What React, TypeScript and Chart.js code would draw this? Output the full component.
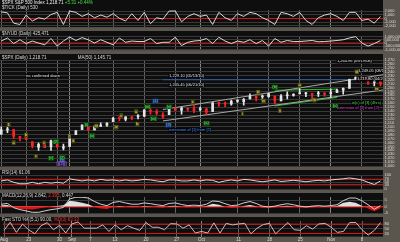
import React, { useEffect, useRef } from "react";
import { Chart, registerables } from "chart.js";

Chart.register(...registerables);

// ---------------- data ----------------
const dates = ["2010-08-17","2010-08-18","2010-08-19","2010-08-20","2010-08-23","2010-08-24","2010-08-25","2010-08-26","2010-08-27","2010-08-30","2010-08-31",
"2010-09-01","2010-09-02","2010-09-03","2010-09-07","2010-09-08","2010-09-09","2010-09-10","2010-09-13","2010-09-14","2010-09-15","2010-09-16","2010-09-17","2010-09-20","2010-09-21","2010-09-22","2010-09-23","2010-09-24","2010-09-27","2010-09-28","2010-09-29","2010-09-30",
"2010-10-01","2010-10-04","2010-10-05","2010-10-06","2010-10-07","2010-10-08","2010-10-11","2010-10-12","2010-10-13","2010-10-14","2010-10-15","2010-10-18","2010-10-19","2010-10-20","2010-10-21","2010-10-22","2010-10-25","2010-10-26","2010-10-27","2010-10-28","2010-10-29",
"2010-11-01","2010-11-02","2010-11-03","2010-11-04","2010-11-05","2010-11-08","2010-11-09","2010-11-10","2010-11-11"];

const openP = [1081,1092,1093,1075,1073,1062,1048,1056,1049,1062,1046,1050,1080,1093,1102,1092,1101,1104,1113,1121,1119,1123,1127,1127,1142,1139,1131,1131,1148,1142,1146,1146,1144,1145,1139,1160,1161,1158,1165,1164,1171,1177,1177,1177,1178,1166,1179,1180,1184,1184,1183,1184,1183,1186,1187,1193,1198,1221,1223,1224,1213,1209];
const highP = [1100,1099,1093,1076,1082,1062,1059,1062,1066,1064,1056,1081,1090,1105,1102,1103,1110,1110,1124,1127,1126,1126,1131,1144,1148,1144,1136,1149,1149,1150,1148,1157,1150,1148,1162,1163,1163,1168,1169,1172,1184,1179,1181,1185,1178,1182,1189,1184,1197,1188,1183,1190,1187,1196,1196,1199,1221,1227,1224,1226,1219,1217];
const lowP = [1081,1085,1070,1064,1067,1046,1040,1047,1040,1048,1041,1050,1080,1093,1091,1092,1101,1101,1113,1115,1115,1118,1120,1126,1132,1131,1122,1131,1142,1132,1140,1136,1140,1131,1139,1152,1151,1155,1162,1155,1171,1166,1167,1175,1159,1166,1171,1178,1184,1177,1171,1177,1178,1175,1187,1183,1198,1221,1218,1208,1204,1204];
const closeP = [1092.54,1094.16,1075.63,1071.69,1067.36,1051.87,1055.33,1047.22,1064.59,1048.92,1049.33,1080.29,1090.10,1104.51,1091.84,1098.87,1104.18,1109.55,1121.90,1121.10,1125.07,1124.66,1125.59,1142.71,1139.78,1134.28,1124.83,1148.67,1142.16,1147.70,1144.73,1141.20,1146.24,1137.03,1160.75,1159.97,1158.06,1165.15,1165.32,1169.77,1178.10,1173.81,1176.19,1184.71,1165.90,1178.17,1180.26,1183.08,1185.62,1185.64,1182.45,1183.78,1183.26,1184.38,1193.57,1197.96,1221.06,1225.85,1223.25,1213.40,1218.71,1214.50];

const tickVals = [1850,1550,-1260,-1630,960,-670,220,-150,1110,1700,-1630,2070,1700,590,1330,220,960,370,1330,70,-670,1330,-520,1700,-1410,220,-150,2070,2070,-890,590,1330,590,960,-1630,1700,220,-520,1330,590,1700,1330,220,-520,-1630,1700,1330,590,1700,-520,-1630,220,960,1330,590,-520,1700,1700,-520,-150,-1260,590];
const breadthVals = [317000,794000,-79000,516000,-79000,317000,0,-278000,714000,-476000,317000,950000,397000,850000,516000,0,516000,119000,-278000,794000,119000,317000,238000,238000,714000,-79000,119000,119000,913000,-397000,119000,317000,397000,714000,-79000,900000,317000,-79000,317000,119000,516000,-79000,397000,-476000,714000,119000,397000,238000,238000,317000,397000,198000,238000,317000,397000,516000,794000,1000000,0,-476000,-79000,397000];
const rsiVals = [58,65,48,38,38,48,38,48,42,48,42,73,65,58,65,58,69,62,65,58,65,58,62,69,65,58,52,65,65,58,58,65,58,65,62,48,58,65,58,69,65,58,52,58,65,54,58,62,58,52,58,62,58,65,69,73,79,73,65,48,33,58];
const macdVals = [1.9,2.5,-0.8,-2.3,-3.3,-4.4,-4.4,-3.3,-2.3,-1.7,-0.6,6.0,7.3,7.3,6.7,4.0,1.9,0.8,3.3,4.0,2.9,1.9,1.9,2.9,2.3,1.5,0.8,2.5,2.9,1.7,0.8,1.2,0.8,1.9,4.4,4.0,2.3,0.8,1.2,2.9,4.0,2.5,0.4,-0.2,0.4,1.5,2.3,1.5,0.4,-0.2,0.4,0.8,0.4,0.8,1.5,4.6,6.7,6.7,4.6,1.5,-2.0,0.8];
const histVals = [1.0,1.2,-0.8,-1.8,-2.0,-2.2,-1.5,-0.5,0.2,0.5,1.0,4.5,4.0,3.0,1.8,-0.2,-1.5,-1.8,-0.2,0.5,0,-0.5,-0.3,0.5,0.1,-0.3,-0.8,0.5,0.7,0,-0.5,-0.2,-0.3,0.6,2.2,1.5,0,-1.0,-0.6,0.6,1.3,0.4,-1.0,-1.1,-0.6,0.3,0.8,0.1,-0.6,-0.8,-0.4,0,-0.2,0.1,0.6,3.0,3.8,3.0,0.8,-1.5,-3.5,-1.2];
const stochVals = [40,92,27,80,44,18,70,90,44,72,23,81,94,54,54,54,75,33,75,44,70,54,40,90,60,60,44,83,81,54,75,23,33,23,88,23,85,75,81,85,18,54,77,85,18,54,90,44,40,70,48,81,85,60,27,33,90,90,44,10,40,90];

const xTickIdx = [0,4,9,11,14,18,23,28,32,38,43,48,53,58];
const xTickText = ["Aug","23","30","Sep","7","13","20","27","Oct","11","18","25","Nov","8"];
const monthTickIdx = [11,32,53];

const tickAxis = [-2000,-1000,0,1000,2000];
const breadthAxis = [-1000000,-500000,0,500000,1000000];
const rsiAxis = [0,30,50,70,100];
const macdAxis = [-5,0,5];
const stochAxis = [20,50,80];

// trend / channel lines in (day index, price)
const channelUpper = [{ x: 26, y: 1144 }, { x: 62, y: 1234 }];
const channelLower = [{ x: 26, y: 1115 }, { x: 62, y: 1195 }];
const greenTop = [{ x: 44, y: 1193 }, { x: 54, y: 1196 }];
const greenBottom = [{ x: 44, y: 1153 }, { x: 54, y: 1175 }];
const blueLevel = [{ x: 26, y: 1219.8 }, { x: 62, y: 1219.8 }];

// wave labels: day index, price, text, style
const waveLabels: { i: number; p: number; t: string; k: string }[] = [
  { i: 1.2, p: 1106, t: "1", k: "y" },
  { i: 2, p: 1060, t: "a", k: "y" },
  { i: 4, p: 1079, t: "b", k: "y" },
  { i: 6.9, p: 1059, t: "c", k: "y" },
  { i: 8.8, p: 1062, t: "(2)", k: "g" },
  { i: 11, p: 1076, t: "i", k: "y" },
  { i: 11.6, p: 1064, t: "ii", k: "y" },
  { i: 13.7, p: 1106, t: "(i)", k: "g" },
  { i: 14.6, p: 1078, t: "(ii)", k: "g" },
  { i: 15.3, p: 1102, t: "iii", k: "y" },
  { i: 18.5, p: 1099, t: "iv", k: "y" },
  { i: 19.3, p: 1129, t: "v", k: "y" },
  { i: 21.7, p: 1139, t: "a", k: "y" },
  { i: 21.9, p: 1107, t: "b", k: "y" },
  { i: 23.5, p: 1151, t: "(iii)", k: "g" },
  { i: 24.8, p: 1166, t: "[1]", k: "b" },
  { i: 24.5, p: 1121, t: "(iv)", k: "g" },
  { i: 27, p: 1151, t: "(v)", k: "g" },
  { i: 26.9, p: 1104, t: "[2]", k: "b" },
  { i: 30.8, p: 1163, t: "c", k: "y" },
  { i: 33, p: 1109, t: "(a)", k: "g" },
  { i: 38.8, p: 1134, t: "i", k: "y" },
  { i: 41.3, p: 1188, t: "iii", k: "y" },
  { i: 42.2, p: 1166, t: "iv", k: "y" },
  { i: 44, p: 1201, t: "(b)", k: "g" },
  { i: 44.8, p: 1141, t: "ii", k: "y" },
  { i: 48, p: 1206, t: "a", k: "y" },
  { i: 50.4, p: 1168, t: "b", k: "y" },
  { i: 53.7, p: 1154, t: "(c)", k: "g" },
  { i: 57.2, p: 1240, t: "iii", k: "y" },
  { i: 60.4, p: 1196, t: "iv", k: "y" },
  { i: 5.6, p: 1025, t: "c", k: "y" },
  { i: 8, p: 1020, t: "(c)", k: "g" },
  { i: 9.8, p: 1022, t: "(2)", k: "g" },
  { i: 9.8, p: 1012, t: "[2]", k: "b" },
  { i: 9.7, p: 1005, t: "((2))", k: "p" },
];

const noteLabels: { i: number; p: number; t: string; c: string }[] = [
  { i: 4, p: 1230, t: "no confirmed down", c: "#e6e6e6" },
  { i: 27, p: 1230, t: "1,229.10 (05/13/10)", c: "#e6e6e6" },
  { i: 27, p: 1206, t: "1,205.45 (06/21/10)", c: "#e6e6e6" },
  { i: 54, p: 1267, t: "1,264.96 (09/19/08)", c: "#e6e6e6" },
  { i: 57.4, p: 1242, t: "1,249.05 (08/11/08)", c: "#e6e6e6" },
  { i: 57.2, p: 1221, t: "1,219.80 (04/26/10)", c: "#e6e6e6" },
  { i: 56.4, p: 1161, t: "w(c) of [3] (4hrs)", c: "#3fe03f" },
  { i: 54, p: 1149, t: "extension of [3] from [2]", c: "#e040e0" },
  { i: 27, p: 1092, t: "extension of [1] from [2]", c: "#3f8fff" },
];

// ---------------- styling ----------------
const FONT = "'Liberation Sans', Arial, sans-serif";
const GAP = "#5a564d";
const PANEL = "#0e0e0e";
const HGRID = "#383838";
const VGRID = "#626262";
const VGRID_MONTH = "#858585";
const TXT = "#dcdcdc";
const X_MIN = -0.2;
const X_MAX = 61.4;
const AXIS_W = 17;

type Seg = { t: string; c: string };

const bgPlugin = {
  id: "panelBg",
  beforeDraw(chart: any) {
    const { ctx, chartArea, width, height } = chart;
    ctx.save();
    ctx.fillStyle = GAP;
    ctx.fillRect(0, 0, width, height);
    ctx.fillStyle = PANEL;
    ctx.fillRect(0, 0, chartArea.right, chartArea.bottom);
    ctx.restore();
  },
  afterDraw(chart: any, _a: any, opts: any) {
    const rows: Seg[][] = opts.rows || [];
    const { ctx } = chart;
    ctx.save();
    ctx.font = `${opts.size || 4.5}px ${FONT}`;
    rows.forEach((row, r) => {
      let x = 2;
      row.forEach((seg) => {
        ctx.fillStyle = seg.c;
        ctx.fillText(seg.t, x, opts.y0 + r * opts.dy);
        x += ctx.measureText(seg.t).width;
      });
    });
    ctx.restore();
  },
};

const boxStyle: Record<string, { bg: string; fg: string; bd?: string }> = {
  y: { bg: "#4d4a12", fg: "#f2e65a" },
  g: { bg: "#0f5010", fg: "#6af06a" },
  b: { bg: "#12386e", fg: "#7ab8ff" },
  p: { bg: "#2a1446", fg: "#d08cff", bd: "#a060f0" },
};

const annoPlugin = {
  id: "annos",
  afterDatasetsDraw(chart: any) {
    const { ctx } = chart;
    const xs = chart.scales.x;
    const ys = chart.scales.y;
    ctx.save();
    ctx.beginPath();
    ctx.rect(chart.chartArea.left, chart.chartArea.top, chart.chartArea.width, chart.chartArea.height);
    ctx.clip();
    ctx.font = `4px ${FONT}`;
    ctx.textBaseline = "middle";
    noteLabels.forEach((n) => {
      const px = xs.getPixelForValue(n.i);
      const py = ys.getPixelForValue(n.p);
      ctx.fillStyle = "rgba(0,0,0,0.85)";
      const w = ctx.measureText(n.t).width;
      ctx.fillRect(px - 0.5, py - 2.2, w + 1, 4.4);
      ctx.fillStyle = n.c;
      ctx.textAlign = "left";
      ctx.fillText(n.t, px, py);
    });
    waveLabels.forEach((a) => {
      const s = boxStyle[a.k];
      const px = xs.getPixelForValue(a.i);
      const py = ys.getPixelForValue(a.p);
      const w = ctx.measureText(a.t).width + 1.6;
      ctx.fillStyle = s.bg;
      ctx.fillRect(px - w / 2, py - 2.3, w, 4.6);
      if (s.bd) {
        ctx.strokeStyle = s.bd;
        ctx.lineWidth = 0.6;
        ctx.strokeRect(px - w / 2, py - 2.3, w, 4.6);
      }
      ctx.fillStyle = s.fg;
      ctx.textAlign = "center";
      ctx.fillText(a.t, px, py);
    });
    ctx.restore();
  },
};

const fmtNum = (v: number) => Number(v).toLocaleString("en-US");

const xScale = (show: boolean) => ({
  type: "linear",
  min: X_MIN,
  max: X_MAX,
  offset: false,
  afterBuildTicks: (s: any) => {
    s.ticks = xTickIdx.map((v) => ({ value: v }));
  },
  ticks: {
    display: show,
    autoSkip: false,
    maxRotation: 0,
    padding: 0,
    color: TXT,
    font: { size: 4.5, family: FONT },
    callback: (v: any) => {
      const k = xTickIdx.indexOf(Number(v));
      return k >= 0 ? xTickText[k] : "";
    },
  },
  grid: {
    offset: false,
    drawTicks: false,
    color: (c: any) => (c.tick && monthTickIdx.includes(c.tick.value) ? VGRID_MONTH : VGRID),
    lineWidth: 1,
  },
  border: { display: false },
});

const yScale = (min: number, max: number, vals: number[] | null, step?: number) => ({
  type: "linear",
  position: "right",
  min,
  max,
  afterBuildTicks: (s: any) => {
    if (vals) s.ticks = vals.map((v) => ({ value: v }));
  },
  afterFit: (s: any) => {
    s.width = AXIS_W;
  },
  ticks: {
    autoSkip: false,
    stepSize: step,
    padding: 1.5,
    color: TXT,
    font: { size: 4, family: FONT },
    callback: (v: any) => fmtNum(v),
  },
  grid: { drawTicks: false, color: HGRID, lineWidth: 1 },
  border: { display: false },
});

const pts = (arr: number[]) => arr.map((v, i) => ({ x: i, y: v }));
const hline = (v: number, color: string, w: number) => ({
  type: "line",
  data: [{ x: X_MIN, y: v }, { x: X_MAX, y: v }],
  borderColor: color,
  borderWidth: w,
  pointRadius: 0,
  order: 5,
});
const seg = (d: { x: number; y: number }[], color: string, w: number) => ({
  type: "line",
  data: d,
  borderColor: color,
  borderWidth: w,
  pointRadius: 0,
  order: 4,
});

const baseOptions = (padTop: number, padBottom: number, rows: Seg[][], y0: number, dy: number, scales: any) => ({
  animation: false,
  responsive: false,
  devicePixelRatio: 1,
  events: [],
  layout: { padding: { top: padTop, bottom: padBottom, left: 0, right: 0 } },
  plugins: {
    legend: { display: false },
    tooltip: { enabled: false },
    title: { display: false },
    panelBg: { rows, y0, dy, size: 4.5 },
  },
  scales,
});

const lineDs = (arr: number[], color: string, w = 1) => ({
  type: "line",
  data: pts(arr),
  borderColor: color,
  borderWidth: w,
  pointRadius: 0,
  tension: 0,
  order: 1,
});

// ---------------- panel builders ----------------
const makeTick = () => ({
  type: "line",
  data: { datasets: [hline(0, "#d01818", 1), lineDs(tickVals, "#d8d8d8")] },
  options: baseOptions(10, 1, [
    [{ t: "$SPX S&P 500 Index ", c: "#f0f0f0" }, { t: "1,218.71 ", c: "#f0f0f0" }, { t: "+5.31 +0.44%", c: "#44e044" }],
    [{ t: "$TICK (Daily) 530", c: TXT }],
  ], 4.3, 4.6, { x: xScale(false), y: yScale(-2350, 2350, tickAxis) }),
  plugins: [bgPlugin],
});

const makeBreadth = () => ({
  type: "line",
  data: { datasets: [hline(0, "#d01818", 1), lineDs(breadthVals, "#d8d8d8")] },
  options: baseOptions(5, 1, [[{ t: "$NYUD (Daily) 425,471", c: TXT }]], 4.2, 4.6, {
    x: xScale(false),
    y: yScale(-1100000, 1100000, breadthAxis),
  }),
  plugins: [bgPlugin],
});

const upDown = closeP.map((c, i) => (c >= (i === 0 ? openP[0] : closeP[i - 1]) ? "#e4e4e4" : "#ff2222"));

const makeMain = () => ({
  type: "bar",
  data: {
    datasets: [
      seg(channelUpper, "#a8a8a8", 1),
      seg(channelLower, "#a8a8a8", 1),
      seg(greenTop, "#22c022", 1),
      seg(greenBottom, "#22c022", 1),
      seg(blueLevel, "#2f5fa8", 1),
      {
        type: "bar",
        data: closeP.map((_c, i) => ({ x: i, y: [lowP[i], highP[i]] })),
        backgroundColor: upDown,
        barThickness: 1,
        grouped: false,
        order: 2,
      },
      {
        type: "bar",
        data: closeP.map((c, i) => ({ x: i, y: [Math.min(openP[i], c), Math.max(openP[i], c)] })),
        backgroundColor: upDown,
        barThickness: 2,
        minBarLength: 1,
        grouped: false,
        order: 1,
      },
    ],
  },
  options: baseOptions(6, 1, [[{ t: "$SPX (Daily) 1,218.71", c: TXT }, { t: "                         MA(50) 1,145.71", c: TXT }]], 4.6, 4.6, {
    x: xScale(false),
    y: yScale(1000, 1270, null, 10),
  }),
  plugins: [bgPlugin, annoPlugin],
});

const makeRsi = () => ({
  type: "line",
  data: { datasets: [hline(70, "#d01818", 1), hline(30, "#d01818", 1), lineDs(rsiVals, "#d8d8d8")] },
  options: baseOptions(5, 1, [[{ t: "RSI(14) 61.06", c: TXT }]], 4.2, 4.6, {
    x: xScale(false),
    y: yScale(0, 100, rsiAxis),
  }),
  plugins: [bgPlugin],
});

const makeMacd = () => ({
  type: "line",
  data: {
    datasets: [
      {
        type: "line",
        data: pts(histVals),
        borderWidth: 0,
        borderColor: "rgba(0,0,0,0)",
        pointRadius: 0,
        fill: { target: { value: 0 }, above: "rgba(235,235,235,0.95)", below: "#e01414" },
        order: 3,
      },
      hline(0, "#d01818", 1.5),
      lineDs(macdVals, "#d0d0d0"),
    ],
  },
  options: baseOptions(4, 1, [[{ t: "MACD(12,26,9) 2.842, ", c: TXT }, { t: "2.395", c: "#ff3030" }, { t: ", 0.447", c: TXT }]], 3.8, 4.6, {
    x: xScale(false),
    y: yScale(-5, 7.5, macdAxis),
  }),
  plugins: [bgPlugin],
});

const makeStoch = () => ({
  type: "line",
  data: { datasets: [hline(80, "#d01818", 1), hline(20, "#d01818", 1), lineDs(stochVals, "#dcb4b4")] },
  options: baseOptions(4, 0, [[{ t: "Fast STO %K(5,1) 90.00, ", c: TXT }, { t: "%D(3) 63.33", c: "#ff3030" }]], 3.8, 4.6, {
    x: xScale(true),
    y: yScale(0, 100, stochAxis),
  }),
  plugins: [bgPlugin],
});

function Panel({ top, height, make }: { top: number; height: number; make: () => any }) {
  const ref = useRef<HTMLCanvasElement>(null);
  useEffect(() => {
    if (!ref.current) return;
    const chart = new Chart(ref.current, make());
    return () => chart.destroy();
  }, []);
  return (
    <canvas
      ref={ref}
      width={400}
      height={height}
      style={{ position: "absolute", left: 0, top, width: 400, height, display: "block" }}
    />
  );
}

export default function App() {
  return (
    <div
      style={{
        position: "fixed",
        left: 0,
        top: 0,
        width: 400,
        height: 242,
        background: GAP,
        overflow: "hidden",
      }}
      data-dates={dates.length}
    >
      <Panel top={0} height={31} make={makeTick} />
      <Panel top={31} height={23} make={makeBreadth} />
      <Panel top={54} height={116} make={makeMain} />
      <Panel top={170} height={23} make={makeRsi} />
      <Panel top={193} height={24} make={makeMacd} />
      <Panel top={217} height={25} make={makeStoch} />
    </div>
  );
}
